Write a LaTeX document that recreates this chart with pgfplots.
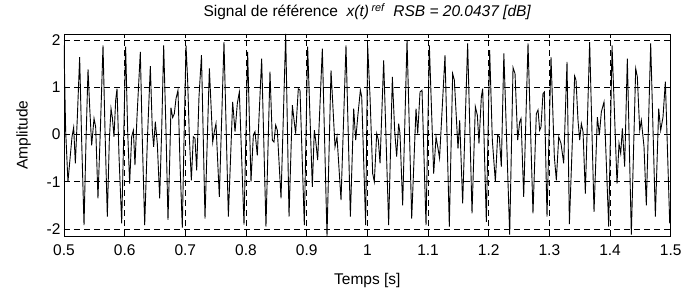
\documentclass[border=0pt]{standalone}
\usepackage{fontspec}
\setmainfont{Liberation Sans}
\usepackage{pgfplots}
\pgfplotsset{compat=1.18}
\begin{document}
\begin{tikzpicture}
\begin{axis}[
  scale only axis, width=606.7pt, height=202pt,
  xmin=0.5, xmax=1.5, ymin=-2.15, ymax=2.13,
  xtick={0.5,0.6,0.7,0.8,0.9,1,1.1,1.2,1.3,1.4,1.5},
  xticklabels={0.5,0.6,0.7,0.8,0.9,1,1.1,1.2,1.3,1.4,1.5},
  ytick={-2,-1,0,1,2}, yticklabels={-2,-1,0,1,2},
  grid=major,
  major grid style={black, dash pattern=on 6pt off 4pt, line width=0.5pt},
  axis line style={black, line width=0.7pt},
  tick style={black, line width=0.6pt}, major tick length=4pt,
  tick label style={font=\fontsize{15.5}{18}\selectfont},
  xticklabel style={yshift=-5pt},
  label style={font=\fontsize{15.5}{18}\selectfont},
  xlabel style={at={(axis description cs:0.5,-0.218)}, anchor=center},
  ylabel style={at={(axis description cs:-0.0665,0.5)}, anchor=center},
  xlabel={Temps [s]}, ylabel={Amplitude},
]
\addplot[black, line width=0.9pt, mark=none] coordinates {
(0.5000,1.89)(0.5027,0.09)(0.5065,-1.00)(0.5132,-0.05)(0.5159,0.15)(0.5187,-0.61)(0.5220,0.37)(0.5258,1.64)
(0.5291,-0.12)(0.5330,-1.92)(0.5363,-0.12)(0.5396,1.38)(0.5423,0.59)(0.5456,-0.23)(0.5495,0.34)(0.5522,0.16)
(0.5560,-1.35)(0.5599,0.09)(0.5643,1.89)(0.5676,0.09)(0.5714,-1.74)(0.5747,-0.12)(0.5775,0.55)(0.5797,0.36)
(0.5824,-0.05)(0.5852,0.73)(0.5874,0.97)(0.5907,-0.47)(0.5951,-1.88)(0.5984,-0.05)(0.6016,1.86)(0.6049,0.09)
(0.6082,-1.04)(0.6115,-0.05)(0.6143,0.09)(0.6170,-0.65)(0.6203,0.37)(0.6258,1.75)(0.6291,-0.12)(0.6330,-1.92)
(0.6374,-0.12)(0.6423,1.45)(0.6456,0.09)(0.6478,-0.26)(0.6505,0.27)(0.6538,-0.19)(0.6577,-1.35)(0.6610,0.09)
(0.6643,1.89)
(0.6681,0.09)(0.6714,-1.81)(0.6741,-0.61)(0.6763,0.57)(0.6791,0.36)(0.6818,0.44)(0.6846,0.76)(0.6879,0.94)
(0.6912,-0.61)(0.6950,-1.97)(0.6978,-0.12)(0.7011,1.89)(0.7038,1.15)(0.7066,-0.05)(0.7099,-0.97)(0.7132,-0.05)
(0.7159,-0.08)(0.7187,-0.76)(0.7225,0.80)(0.7266,1.68)
(0.7324,-1.78)(0.7396,1.40)(0.7451,-0.16)(0.7478,0.06)(0.7505,0.23)(0.7560,-1.32)(0.7637,1.96)(0.7709,-1.74)
(0.7780,0.69)(0.7819,0.06)(0.7857,0.66)(0.7890,0.90)(0.7967,-1.91)(0.8027,1.75)(0.8082,-1.00)(0.8121,-0.01)
(0.8148,0.06)(0.8186,-0.44)(0.8258,1.61)
(0.8329,-1.95)(0.8395,1.33)(0.8434,-0.12)(0.8461,-0.16)(0.8489,0.20)(0.8516,0.09)(0.8577,-1.35)(0.8654,2.13)
(0.8709,-1.74)(0.8764,0.62)(0.8786,0.37)(0.8818,0.02)(0.8862,0.97)(0.8890,0.94)(0.8961,-1.92)(0.9016,1.86)
(0.9093,-1.11)(0.9126,0.09)(0.9148,-0.12)(0.9181,-0.54)(0.9258,1.82)(0.9335,-2.15)(0.9401,1.36)(0.9467,-0.26)
(0.9500,-0.05)(0.9566,-1.39)(0.9648,1.89)(0.9720,-1.74)(0.9775,0.55)(0.9808,-0.12)(0.9841,0.37)(0.9885,0.94)
(0.9907,0.80)(0.9972,-1.92)
(1.0005,1.89)(1.0044,0.80)(1.0088,-0.83)(1.0115,-1.00)(1.0154,0.02)(1.0181,-0.12)(1.0209,-0.61)(1.0269,1.57)
(1.0351,-1.92)(1.0412,1.22)(1.0450,0.09)(1.0483,-0.47)(1.0516,0.23)(1.0538,0.02)(1.0582,-1.50)(1.0654,2.00)
(1.0731,-1.78)(1.0802,0.55)(1.0830,0.02)(1.0868,0.90)(1.0901,0.94)(1.0967,-1.92)(1.1022,1.89)(1.1093,-0.83)
(1.1132,-0.05)(1.1165,-0.30)(1.1190,-0.50)(1.1280,1.68)(1.1351,-1.95)(1.1406,1.29)(1.1434,1.15)(1.1494,-0.30)
(1.1522,0.30)(1.1571,-1.46)(1.1653,1.93)
(1.1725,-1.67)(1.1780,0.59)(1.1813,0.41)(1.1840,-0.19)(1.1879,0.80)(1.1901,0.97)(1.1961,-1.85)(1.2016,1.79)
(1.2060,-0.12)(1.2110,-1.00)(1.2148,-0.01)(1.2175,-0.05)(1.2208,-0.68)(1.2250,1.72)(1.2346,-2.12)(1.2401,1.42)
(1.2434,1.29)(1.2478,-0.12)(1.2511,0.27)(1.2533,0.34)(1.2577,-1.32)(1.2648,1.93)(1.2730,-1.67)(1.2785,0.44)
(1.2813,0.52)(1.2840,0.09)(1.2862,0.16)(1.2895,0.87)(1.2917,0.90)(1.2961,-1.74)(1.3027,1.64)(1.3082,-0.47)
(1.3115,-0.97)(1.3154,-0.05)(1.3192,-0.19)(1.3236,-0.61)(1.3291,1.54)
(1.3330,-1.90)(1.3417,1.24)(1.3439,1.15)(1.3472,0.30)(1.3500,-0.12)(1.3527,0.23)(1.3555,0.06)(1.3593,-1.25)
(1.3664,1.96)(1.3736,-1.64)(1.3791,0.37)(1.3824,-0.01)(1.3857,0.48)(1.3901,0.69)(1.3978,-1.95)(1.4033,1.89)
(1.4115,-1.04)(1.4148,-0.19)(1.4176,-0.40)(1.4203,0.13)(1.4241,-0.68)(1.4285,1.61)(1.4351,-2.12)(1.4423,1.40)
(1.4450,1.22)(1.4489,0.09)(1.4516,0.30)(1.4560,-0.26)(1.4598,-1.50)(1.4670,1.93)(1.4747,-1.74)(1.4802,0.55)
(1.4835,0.09)(1.4873,0.37)(1.4912,1.12)(1.4983,-1.85)(1.5000,-1.80)
};
\end{axis}
\node[anchor=base, inner sep=0pt, font=\fontsize{15.5}{18}\selectfont] at ([yshift=17pt]current axis.north)
  {Signal de référence \ \textit{x(t)\,\textsuperscript{ref}} \ \textit{RSB = 20.0437 [dB]}};
\pgfresetboundingbox
\path[use as bounding box] ([shift={(-64pt,-58pt)}]current axis.south west) rectangle ([shift={(10.3pt,34pt)}]current axis.north east);
\end{tikzpicture}
\end{document}
